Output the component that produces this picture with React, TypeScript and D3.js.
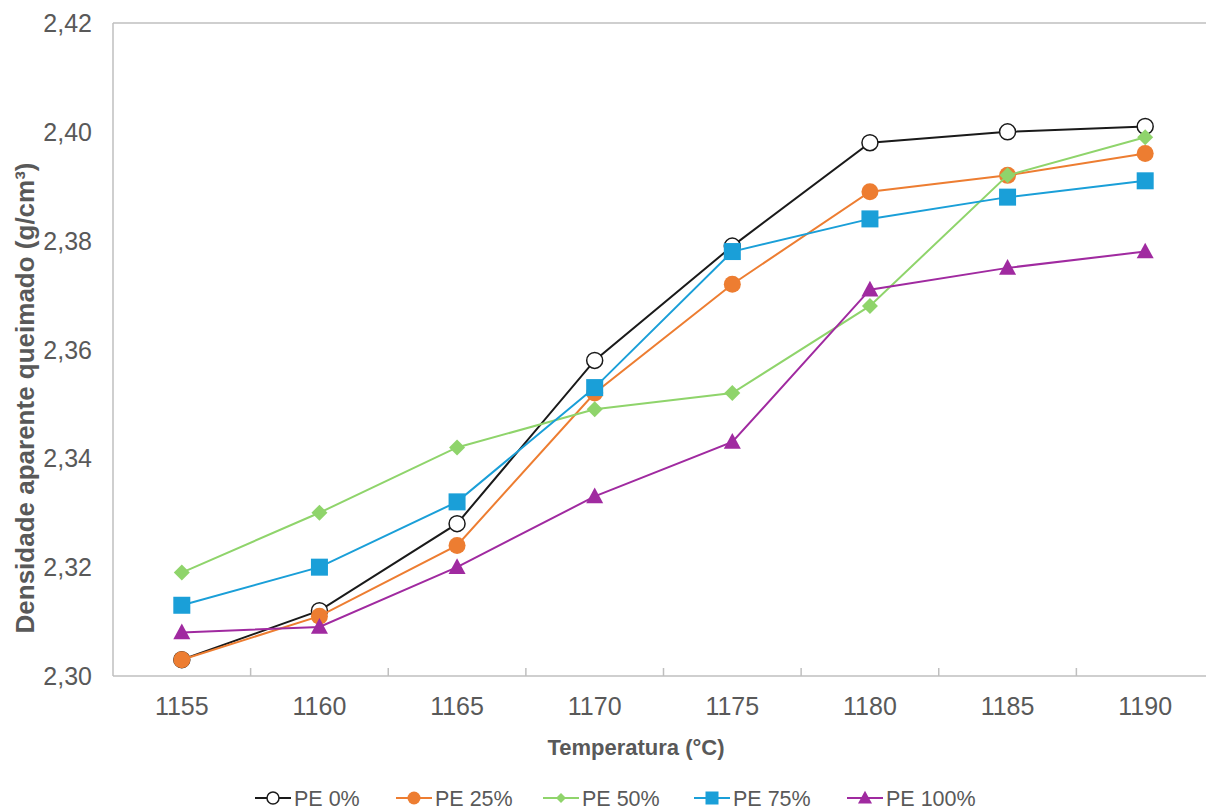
import React from 'react';
import * as d3 from 'd3';

const temperatures = ['1155', '1160', '1165', '1170', '1175', '1180', '1185', '1190'];

const pe0 = [2.303, 2.312, 2.328, 2.358, 2.379, 2.398, 2.4, 2.401];
const pe25 = [2.303, 2.311, 2.324, 2.352, 2.372, 2.389, 2.392, 2.396];
const pe50 = [2.319, 2.33, 2.342, 2.349, 2.352, 2.368, 2.392, 2.399];
const pe75 = [2.313, 2.32, 2.332, 2.353, 2.378, 2.384, 2.388, 2.391];
const pe100 = [2.308, 2.309, 2.32, 2.333, 2.343, 2.371, 2.375, 2.378];

const yTicks = [2.3, 2.32, 2.34, 2.36, 2.38, 2.4, 2.42];

type Shape = 'openCircle' | 'circle' | 'diamond' | 'square' | 'triangle';

const series: { name: string; values: number[]; color: string; shape: Shape }[] = [
  { name: 'PE 0%', values: pe0, color: '#1a1a1a', shape: 'openCircle' },
  { name: 'PE 25%', values: pe25, color: '#ED7D31', shape: 'circle' },
  { name: 'PE 50%', values: pe50, color: '#8FD46B', shape: 'diamond' },
  { name: 'PE 75%', values: pe75, color: '#1A9FD8', shape: 'square' },
  { name: 'PE 100%', values: pe100, color: '#A02AA0', shape: 'triangle' },
];

const width = 1206;
const height = 810;
const margin = { top: 23, left: 113, bottom: 676 };
const plotRight = 1214;
const font = 'Arial, "Liberation Sans", sans-serif';
const textColor = '#595959';
const frameColor = '#BFBFBF';

const Marker: React.FC<{ shape: Shape; x: number; y: number; color: string; s: number }> = ({
  shape,
  x,
  y,
  color,
  s,
}) => {
  if (shape === 'openCircle')
    return <circle cx={x} cy={y} r={s} fill="#fff" stroke={color} strokeWidth={1.5} />;
  if (shape === 'circle') return <circle cx={x} cy={y} r={s} fill={color} />;
  if (shape === 'square')
    return <rect x={x - s} y={y - s} width={2 * s} height={2 * s} fill={color} />;
  if (shape === 'diamond')
    return (
      <path
        d={`M${x},${y - s}L${x + s},${y}L${x},${y + s}L${x - s},${y}Z`}
        fill={color}
      />
    );
  return (
    <path
      d={`M${x},${y - s * 1.05}L${x + s},${y + s * 0.8}L${x - s},${y + s * 0.8}Z`}
      fill={color}
    />
  );
};

const markerSize: Record<Shape, number> = {
  openCircle: 8,
  circle: 8.5,
  diamond: 8,
  square: 8.5,
  triangle: 8.5,
};

const legendMarkerSize: Record<Shape, number> = {
  openCircle: 6,
  circle: 6.5,
  diamond: 5,
  square: 6.5,
  triangle: 7,
};

const legendCenters = [273, 414, 561, 712, 865];

const App: React.FC = () => {
  const x = d3
    .scaleBand<string>()
    .domain(temperatures)
    .range([margin.left, plotRight]);
  const y = d3.scaleLinear().domain([2.3, 2.42]).range([margin.bottom, margin.top]);
  const cx = (t: string) => (x(t) || 0) + x.bandwidth() / 2;
  const fmt = (v: number) => d3.format('.2f')(v).replace('.', ',');

  const line = d3
    .line<number>()
    .x((_, i) => cx(temperatures[i]))
    .y(d => y(d));

  return (
    <div style={{ position: 'absolute', left: 0, top: 0 }}>
      <svg width={width} height={height} style={{ display: 'block', background: '#fff' }}>
        {/* frame */}
        <line x1={margin.left} x2={plotRight} y1={margin.top} y2={margin.top} stroke={frameColor} strokeWidth={1.5} />
        <line x1={margin.left} x2={margin.left} y1={margin.top} y2={margin.bottom} stroke={frameColor} strokeWidth={1.5} />
        <line x1={margin.left} x2={plotRight} y1={margin.bottom} y2={margin.bottom} stroke={frameColor} strokeWidth={1.5} />
        {temperatures.slice(1).map(t => (
          <line
            key={t}
            x1={x(t)}
            x2={x(t)}
            y1={margin.bottom}
            y2={margin.bottom - 8}
            stroke={frameColor}
            strokeWidth={1.5}
          />
        ))}

        {/* y ticks */}
        {yTicks.map(v => (
          <text
            key={v}
            x={92}
            y={y(v)}
            dy="0.36em"
            textAnchor="end"
            fontFamily={font}
            fontSize={25}
            fill={textColor}
          >
            {fmt(v)}
          </text>
        ))}

        {/* x ticks */}
        {temperatures.map(t => (
          <text
            key={t}
            x={cx(t)}
            y={715}
            textAnchor="middle"
            fontFamily={font}
            fontSize={25}
            fill={textColor}
          >
            {t}
          </text>
        ))}

        <text
          x={636}
          y={747}
          dy="0.36em"
          textAnchor="middle"
          fontFamily={font}
          fontSize={22}
          fontWeight="bold"
          fill={textColor}
        >
          Temperatura (°C)
        </text>
        <text
          transform={`translate(25,398) rotate(-90)`}
          dy="0.36em"
          textAnchor="middle"
          fontFamily={font}
          fontSize={26}
          fontWeight="bold"
          fill={textColor}
        >
          Densidade aparente queimado (g/cm³)
        </text>

        {/* series */}
        {series.map(s => (
          <g key={s.name}>
            <path d={line(s.values) || ''} fill="none" stroke={s.color} strokeWidth={2} />
            {s.values.map((v, i) => (
              <Marker
                key={i}
                shape={s.shape}
                x={cx(temperatures[i])}
                y={y(v)}
                color={s.color}
                s={markerSize[s.shape]}
              />
            ))}
          </g>
        ))}

        {/* legend */}
        {series.map((s, i) => {
          const c = legendCenters[i];
          const ly = 798;
          return (
            <g key={s.name}>
              <line x1={c - 18} x2={c + 18} y1={ly} y2={ly} stroke={s.color} strokeWidth={2} />
              <Marker shape={s.shape} x={c} y={ly} color={s.color} s={legendMarkerSize[s.shape]} />
              <text
                x={c + 21}
                y={ly}
                dy="0.36em"
                fontFamily={font}
                fontSize={21.5}
                fill={textColor}
              >
                {s.name}
              </text>
            </g>
          );
        })}
      </svg>
    </div>
  );
};

export default App;
